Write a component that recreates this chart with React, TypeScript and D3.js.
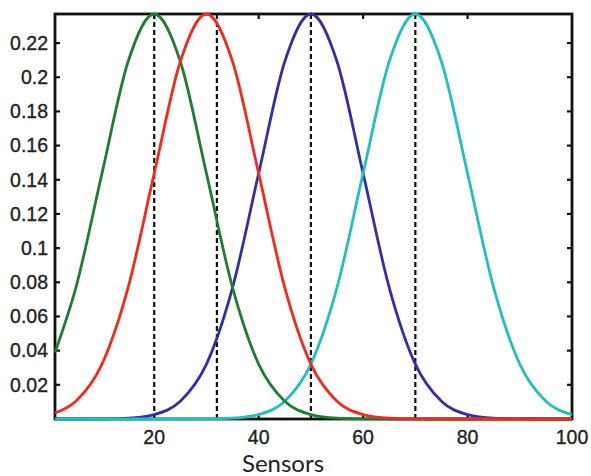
import React from "react";
import * as d3 from "d3";

// Sensor positions at which each tuning curve is sampled
const sensors = [1, 5, 10, 15, 20, 25, 30, 35, 40, 45, 50, 55, 60, 65, 70, 75, 80, 85, 90, 95, 100];

// Response of each channel at the sampled sensor positions
const greenResp = [0.039, 0.0769, 0.1437, 0.2092, 0.237, 0.2092, 0.1437, 0.0769, 0.0321, 0.0104, 0.0026, 0.0005, 0.0001, 0, 0, 0, 0, 0, 0, 0, 0];
const redResp = [0.0035, 0.0104, 0.0321, 0.0769, 0.1437, 0.2092, 0.237, 0.2092, 0.1437, 0.0769, 0.0321, 0.0104, 0.0026, 0.0005, 0.0001, 0, 0, 0, 0, 0, 0];
const blueResp = [0, 0, 0.0001, 0.0005, 0.0026, 0.0104, 0.0321, 0.0769, 0.1437, 0.2092, 0.237, 0.2092, 0.1437, 0.0769, 0.0321, 0.0104, 0.0026, 0.0005, 0.0001, 0, 0];
const cyanResp = [0, 0, 0, 0, 0, 0, 0.0001, 0.0005, 0.0026, 0.0104, 0.0321, 0.0769, 0.1437, 0.2092, 0.237, 0.2092, 0.1437, 0.0769, 0.0321, 0.0104, 0.0026];

// Sensor locations marked with dashed vertical lines
const markers = [20, 32, 50, 70];

const xTicks = [20, 40, 60, 80, 100];
const yTicks = [0.02, 0.04, 0.06, 0.08, 0.1, 0.12, 0.14, 0.16, 0.18, 0.2, 0.22];

const xDomain = [1, 100];
const yDomain = [0, 0.237];

// Drawing order: later series sit on top
const series = [
  { name: "blue", values: blueResp, color: "#2f2fa8" },
  { name: "cyan", values: cyanResp, color: "#1fc0c0" },
  { name: "green", values: greenResp, color: "#1d7d30" },
  { name: "red", values: redResp, color: "#f4281c" },
];

const W = 591;
const H = 476;
const left = 55;
const right = 572;
const top = 14;
const bottom = 419;

export default function App() {
  const x = d3.scaleLinear().domain(xDomain).range([left, right]);
  const y = d3.scaleLinear().domain(yDomain).range([bottom, top]);

  const line = d3
    .line<[number, number]>()
    .x((d) => x(d[0]))
    .y((d) => y(d[1]))
    .curve(d3.curveMonotoneX);

  const tickLen = 5;
  const tickFont = "'Liberation Sans', Arial, Helvetica, sans-serif";
  const tickSize = 19.5;

  return (
    <svg
      width={W}
      height={H}
      style={{ position: "absolute", left: 0, top: 0, background: "#fff" }}
    >
      <rect x={0} y={0} width={W} height={H} fill="#fff" />

      {/* dashed sensor markers */}
      {markers.map((m) => (
        <line
          key={m}
          x1={x(m)}
          x2={x(m)}
          y1={y(yDomain[0])}
          y2={y(yDomain[1])}
          stroke="#111"
          strokeWidth={2.2}
          strokeDasharray="5,3"
        />
      ))}

      {/* frame */}
      <rect
        x={left}
        y={top}
        width={right - left}
        height={bottom - top}
        fill="none"
        stroke="#111"
        strokeWidth={2.8}
      />

      {/* x ticks, bottom and top */}
      {xTicks.map((t) => (
        <g key={"x" + t}>
          <line x1={x(t)} x2={x(t)} y1={bottom} y2={bottom - tickLen} stroke="#111" strokeWidth={2.2} />
          <line x1={x(t)} x2={x(t)} y1={top} y2={top + tickLen} stroke="#111" strokeWidth={2.2} />
          <text
            x={x(t)}
            y={bottom + 25}
            textAnchor="middle"
            fontFamily={tickFont}
            fontSize={tickSize}
            fill="#222"
            stroke="#222"
            strokeWidth={0.35}
          >
            {t}
          </text>
        </g>
      ))}

      {/* y ticks, left and right */}
      {yTicks.map((t) => (
        <g key={"y" + t}>
          <line x1={left} x2={left + tickLen} y1={y(t)} y2={y(t)} stroke="#111" strokeWidth={2.2} />
          <line x1={right} x2={right - tickLen} y1={y(t)} y2={y(t)} stroke="#111" strokeWidth={2.2} />
          <text
            x={left - 7}
            y={y(t)}
            dy="0.35em"
            textAnchor="end"
            fontFamily={tickFont}
            fontSize={tickSize}
            fill="#222"
            stroke="#222"
            strokeWidth={0.35}
          >
            {d3.format("~g")(t)}
          </text>
        </g>
      ))}

      {/* tuning curves */}
      {series.map((s) => (
        <path
          key={s.name}
          d={line(sensors.map((v, i) => [v, s.values[i]] as [number, number])) || ""}
          fill="none"
          stroke={s.color}
          strokeWidth={2.8}
          strokeLinejoin="round"
        />
      ))}

      <text
        x={283}
        y={472}
        textAnchor="middle"
        fontFamily="Lato, 'Open Sans', sans-serif"
        fontSize={24}
        fill="#222"
      >
        Sensors
      </text>
    </svg>
  );
}
